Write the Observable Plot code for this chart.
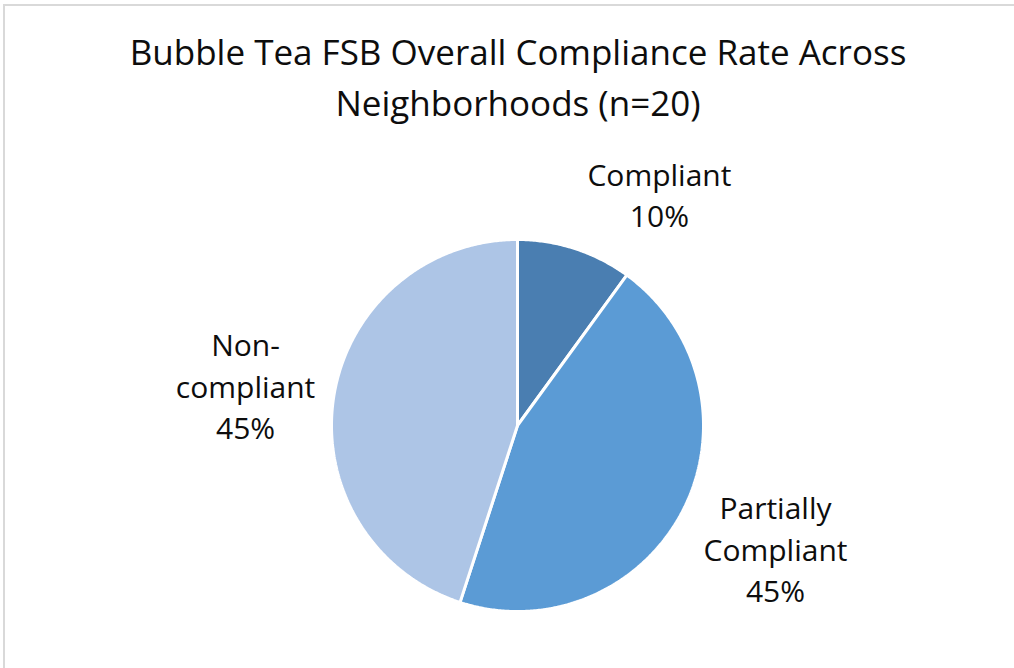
<!DOCTYPE html>
<html>
<head>
<meta charset="utf-8">
<script src="https://cdn.jsdelivr.net/npm/d3@7"></script>
<script src="https://cdn.jsdelivr.net/npm/@observablehq/plot@0.6"></script>
<style>
  html, body { margin: 0; padding: 0; background: #fff; overflow: hidden; }
  #wrap { position: relative; width: 1014px; height: 668px; }
  #border { position: absolute; left: 3px; top: 4px; width: 1100px; height: 800px;
            border-left: 2px solid #d9d9d9; border-top: 2px solid #d9d9d9; }
  #title { position: absolute; left: 0; top: 26px; width: 1036px; text-align: center;
           font-family: "Open Sans", "Noto Sans", sans-serif; font-size: 35px; line-height: 51px;
           color: #0d0d0d; white-space: nowrap; }
  #chart { position: absolute; left: 0; top: 0; }
  #chart svg { display: block; max-width: none; }
</style>
</head>
<body>
<div id="wrap">
  <div id="border"></div>
  <div id="chart"></div>
  <div id="title"></div>
</div>
<script>
// ---- data ----
const titleLines = ["Bubble Tea FSB Overall Compliance Rate Across", "Neighborhoods (n=20)"];
const categories = ["Compliant", "Partially Compliant", "Non-compliant"];
const percents = [10, 45, 45];
const labelNameLines = [["Compliant"], ["Partially", "Compliant"], ["Non-", "compliant"]];
const sliceColors = ["#4a7eb1", "#5b9bd5", "#adc5e6"];

// ---- layout (label anchor points in unit-radius coordinates) ----
const labelPos = {
  "Compliant": [0.763, 1.250],
  "Partially Compliant": [1.387, -0.656],
  "Non-compliant": [-1.462, 0.220]
};

document.getElementById("title").innerHTML = titleLines.join("<br>");

const rows = categories.map((c, i) => ({category: c, value: percents[i], lines: labelNameLines[i]}));
const arcs = d3.pie().sort(null).value(d => d.value).startAngle(0).endAngle(2 * Math.PI)(rows);

// polygon vertices for each slice (angle measured clockwise from 12 o'clock)
const polyPts = [];
for (const a of arcs) {
  polyPts.push({category: a.data.category, x: 0, y: 0});
  const n = Math.max(2, Math.ceil((a.endAngle - a.startAngle) / (Math.PI / 360)));
  for (let k = 0; k <= n; k++) {
    const t = a.startAngle + (a.endAngle - a.startAngle) * k / n;
    polyPts.push({category: a.data.category, x: Math.sin(t), y: Math.cos(t)});
  }
}

const labels = arcs.map(a => ({
  category: a.data.category,
  text: [...a.data.lines, `${a.data.value}%`].join("\n"),
  x: labelPos[a.data.category][0],
  y: labelPos[a.data.category][1]
}));

const chart = Plot.plot({
  width: 1014,
  height: 668,
  marginLeft: 331,
  marginRight: 311,
  marginTop: 239,
  marginBottom: 57,
  x: {domain: [-1, 1], axis: null},
  y: {domain: [-1, 1], axis: null},
  color: {domain: categories, range: sliceColors},
  style: {fontFamily: "'Open Sans', 'Noto Sans', sans-serif", background: "transparent"},
  marks: [
    Plot.line(polyPts, {x: "x", y: "y", z: "category", fill: "category", stroke: "white",
                        strokeWidth: 3, strokeLinejoin: "miter", curve: "linear-closed"}),
    Plot.text(labels, {x: "x", y: "y", text: "text", fontSize: 30, lineHeight: 1.385,
                       lineAnchor: "middle", textAnchor: "middle", fill: "#0d0d0d"})
  ]
});
document.getElementById("chart").appendChild(chart);
</script>
</body>
</html>
